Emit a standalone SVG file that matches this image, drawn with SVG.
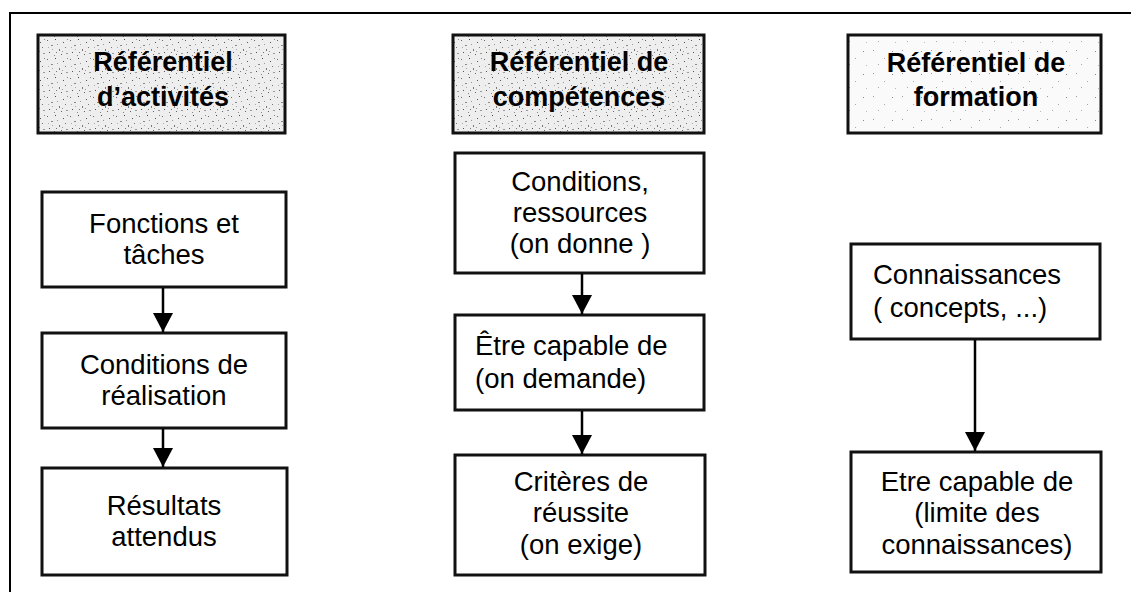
<svg xmlns="http://www.w3.org/2000/svg" width="1131" height="592" viewBox="0 0 1131 592">
  <style>
    .frame { stroke: #000; stroke-width: 2; fill: none; }
    .hdr { stroke: #111; stroke-width: 3; }
    .box { fill: #fff; stroke: #111; stroke-width: 3; }
    .ht { font-family: "Liberation Sans", Arial, sans-serif; font-weight: bold; font-size: 27px; fill: #000; text-anchor: middle; }
    .bt { font-family: "Liberation Sans", Arial, sans-serif; font-size: 27.5px; fill: #000; text-anchor: middle; }
    .bl { text-anchor: start; }
    .conn { stroke: #000; stroke-width: 2.5; fill: none; marker-end: url(#arrow); }
  </style>
  <defs>
    <pattern id="speckle" width="23" height="19" patternUnits="userSpaceOnUse">
      <rect width="23" height="19" fill="#eeeeee"/>
      <rect x="1" y="2" width="1" height="1" fill="#666"/>
      <rect x="5" y="7" width="2" height="1" fill="#888"/>
      <rect x="9" y="1" width="1" height="1" fill="#444"/>
      <rect x="13" y="11" width="1" height="2" fill="#777"/>
      <rect x="17" y="4" width="1" height="1" fill="#555"/>
      <rect x="20" y="15" width="2" height="1" fill="#999"/>
      <rect x="3" y="14" width="1" height="1" fill="#555"/>
      <rect x="8" y="17" width="1" height="1" fill="#888"/>
      <rect x="15" y="16" width="1" height="1" fill="#666"/>
      <rect x="11" y="6" width="1" height="1" fill="#999"/>
      <rect x="19" y="9" width="1" height="1" fill="#777"/>
      <rect x="6" y="11" width="1" height="1" fill="#aaa"/>
      <rect x="21" y="1" width="1" height="1" fill="#888"/>
      <rect x="16" y="13" width="1" height="1" fill="#999"/>
      <rect x="2" y="9" width="1" height="1" fill="#aaa"/>
      <rect x="10" y="14" width="1" height="1" fill="#777"/>
    </pattern>
    <pattern id="speckleLight" width="29" height="23" patternUnits="userSpaceOnUse">
      <rect width="29" height="23" fill="#fafafa"/>
      <rect x="3" y="4" width="1" height="1" fill="#999"/>
      <rect x="14" y="12" width="1" height="1" fill="#aaa"/>
      <rect x="22" y="5" width="1" height="1" fill="#888"/>
      <rect x="8" y="18" width="1" height="1" fill="#aaa"/>
      <rect x="25" y="19" width="1" height="1" fill="#bbb"/>
    </pattern>
    <marker id="arrow" markerUnits="userSpaceOnUse" markerWidth="20" markerHeight="20" refX="19" refY="10" orient="auto">
      <path d="M0,0 L19,10 L0,20 Z" fill="#000"/>
    </marker>
  </defs>

  <g id="frame">
    <path class="frame" d="M10,592 L10,13 L1131,13"/>
  </g>

  <g id="hdr-activites">
    <rect class="hdr" x="38" y="35" width="247" height="98" fill="url(#speckle)"/>
    <text class="ht" x="163" y="71">Référentiel</text>
    <text class="ht" x="163" y="106">d’activités</text>
  </g>
  <g id="hdr-competences">
    <rect class="hdr" x="453" y="35" width="251" height="98" fill="url(#speckle)"/>
    <text class="ht" x="579" y="71">Référentiel de</text>
    <text class="ht" x="579" y="106">compétences</text>
  </g>
  <g id="hdr-formation">
    <rect class="hdr" x="848" y="35" width="253" height="98" fill="url(#speckleLight)"/>
    <text class="ht" x="976" y="72">Référentiel de</text>
    <text class="ht" x="976" y="106">formation</text>
  </g>

  <g id="fonctions">
    <rect class="box" x="42" y="192" width="244" height="95"/>
    <text class="bt" x="164" y="233">Fonctions et</text>
    <text class="bt" x="164" y="264">tâches</text>
  </g>
  <g id="conditions-realisation">
    <rect class="box" x="42" y="333" width="244" height="95"/>
    <text class="bt" x="164" y="374">Conditions de</text>
    <text class="bt" x="164" y="405">réalisation</text>
  </g>
  <g id="resultats">
    <rect class="box" x="42" y="468" width="245" height="107"/>
    <text class="bt" x="164" y="515">Résultats</text>
    <text class="bt" x="164" y="546">attendus</text>
  </g>

  <g id="conditions-ressources">
    <rect class="box" x="455" y="153" width="249" height="120"/>
    <text class="bt" x="580" y="191">Conditions,</text>
    <text class="bt" x="580" y="222">ressources</text>
    <text class="bt" x="580" y="253">(on donne )</text>
  </g>
  <g id="etre-capable-demande">
    <rect class="box" x="455" y="315" width="249" height="95"/>
    <text class="bt bl" x="475" y="355">Être capable de</text>
    <text class="bt bl" x="475" y="388">(on demande)</text>
  </g>
  <g id="criteres">
    <rect class="box" x="455" y="455" width="250" height="120"/>
    <text class="bt" x="581" y="491">Critères de</text>
    <text class="bt" x="581" y="522">réussite</text>
    <text class="bt" x="581" y="554">(on exige)</text>
  </g>

  <g id="connaissances">
    <rect class="box" x="851" y="244" width="249" height="95"/>
    <text class="bt bl" x="873" y="284">Connaissances</text>
    <text class="bt bl" x="873" y="317">( concepts, ...)</text>
  </g>
  <g id="etre-capable-limite">
    <rect class="box" x="851" y="452" width="250" height="120"/>
    <text class="bt" x="977" y="491">Etre capable de</text>
    <text class="bt" x="977" y="522">(limite des</text>
    <text class="bt" x="977" y="554">connaissances)</text>
  </g>

  <g id="connectors">
    <line class="conn" x1="163" y1="288" x2="163" y2="332"/>
    <line class="conn" x1="163" y1="429" x2="163" y2="467"/>
    <line class="conn" x1="582" y1="274" x2="582" y2="314"/>
    <line class="conn" x1="582" y1="411" x2="582" y2="454"/>
    <line class="conn" x1="975" y1="340" x2="975" y2="451"/>
  </g>
</svg>
